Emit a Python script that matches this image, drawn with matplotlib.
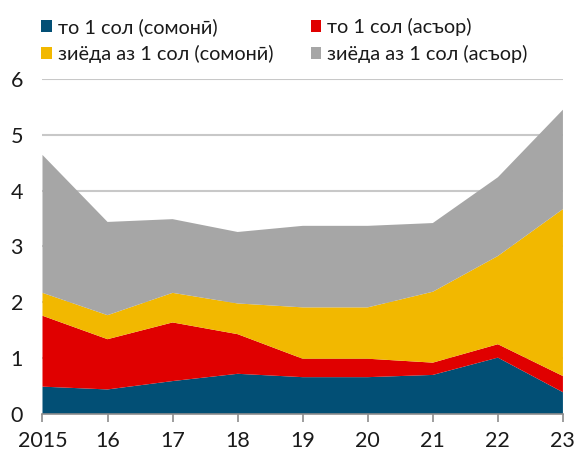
import matplotlib.pyplot as plt

# years and stacked series
years = [2015, 2016, 2017, 2018, 2019, 2020, 2021, 2022, 2023]
year_labels = ["2015", "16", "17", "18", "19", "20", "21", "22", "23"]

upto_somoni = [0.49, 0.44, 0.59, 0.72, 0.66, 0.66, 0.70, 1.01, 0.39]
upto_usd = [1.27, 0.90, 1.05, 0.71, 0.33, 0.33, 0.22, 0.24, 0.29]
over_somoni = [0.41, 0.43, 0.53, 0.55, 0.92, 0.92, 1.27, 1.58, 2.99]
over_usd = [2.47, 1.67, 1.32, 1.28, 1.46, 1.46, 1.23, 1.41, 1.78]

series_names = ["то 1 сол (сомонӣ)", "то 1 сол (асъор)",
                "зиёда аз 1 сол (сомонӣ)", "зиёда аз 1 сол (асъор)"]
colors = ["#024F75", "#E00000", "#F2B800", "#A6A6A6"]

FONT = ["Lato", "DejaVu Sans"]
TICKFONT = ["Lato", "DejaVu Sans"]


def PlotGraph():
    fig = plt.figure(figsize=(5.75, 4.54), dpi=100)
    ax = fig.add_axes([0.0739, 0.0881, 0.9051, 0.7379])

    ax.stackplot(years, upto_somoni, upto_usd, over_somoni, over_usd,
                 colors=colors, labels=series_names, linewidth=0)

    ax.set_xlim(2015, 2023)
    ax.set_ylim(0, 6)
    ax.set_yticks(range(0, 7))
    ax.set_xticks(years)
    ax.set_xticklabels(year_labels)

    ax.set_axisbelow(True)
    ax.yaxis.grid(True, color="#C8C8C8", linewidth=1.5)
    for s in ["top", "right", "left"]:
        ax.spines[s].set_visible(False)
    ax.spines["bottom"].set_color("#8C8C8C")
    ax.spines["bottom"].set_linewidth(1.2)

    ax.tick_params(axis="y", length=0, pad=14)
    ax.tick_params(axis="x", length=6, width=1.2, color="#8C8C8C", pad=6)
    for lab in ax.get_xticklabels() + ax.get_yticklabels():
        lab.set_family(TICKFONT)
        lab.set_fontsize(15.5)
        lab.set_color("#1A1A1A")

    # legend is filled row by row in the original
    handles, labels = ax.get_legend_handles_labels()
    order = [0, 2, 1, 3]
    leg = fig.legend([handles[i] for i in order], [labels[i] for i in order],
                     loc="upper left", ncol=2,
                     bbox_to_anchor=(0.041, 1.0), frameon=False,
                     prop={"family": FONT, "size": 14.3},
                     handlelength=0.55, handleheight=0.55, handletextpad=0.3,
                     columnspacing=1.85, labelspacing=0.45)
    for t in leg.get_texts():
        t.set_color("#1A1A1A")

    fig.savefig("out.png", dpi=100)


def main():
    PlotGraph()


if __name__ == "__main__":
    main()
